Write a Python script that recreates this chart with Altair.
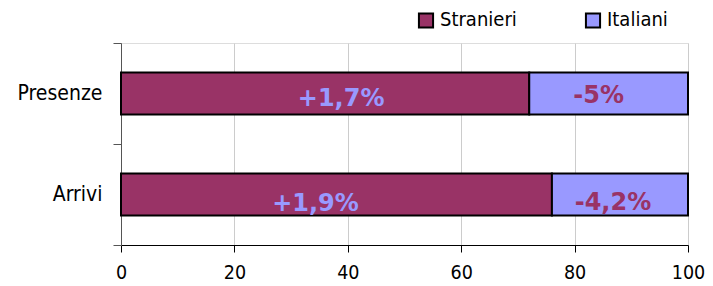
import altair as alt
import pandas as pd

categories = ["Presenze", "Arrivi"]
series = ["Stranieri", "Italiani"]
stranieri = [72, 76]
italiani = [28, 24]
lab_stranieri = ["+1,7%", "+1,9%"]
lab_italiani = ["-5%", "-4,2%"]

colors = ["#993366", "#9999FF"]
label_colors = {"Stranieri": "#9999FF", "Italiani": "#993366"}
FONT = "DejaVu Sans Condensed, Liberation Sans Narrow, DejaVu Sans"
BOLD = "DejaVu Sans"

rows = []
for i, c in enumerate(categories):
    start = 0
    for s, vals, labs in [("Stranieri", stranieri, lab_stranieri), ("Italiani", italiani, lab_italiani)]:
        v = vals[i]
        rows.append({"cat": c, "series": s, "start": start, "end": start + v,
                     "mid": start + v / 2, "label": labs[i]})
        start += v
df = pd.DataFrame(rows)

y_enc = alt.Y("cat:N", sort=categories, title=None,
              scale=alt.Scale(domain=categories, paddingInner=0, paddingOuter=0),
              axis=alt.Axis(tickBand="extent", tickSize=8, labelPadding=11, labelFontSize=21,
                            labelFont=FONT, labelColor="black", domainColor="#555555",
                            tickColor="#555555", grid=False))

bars = alt.Chart(df).mark_bar(size=42, stroke="black", strokeWidth=2).encode(
    x=alt.X("start:Q", title=None, scale=alt.Scale(domain=[0, 100], nice=False),
            axis=alt.Axis(values=[0, 20, 40, 60, 80, 100], tickSize=7, labelPadding=11,
                          labelFontSize=19.5, labelFont=FONT, labelColor="black",
                          domainColor="black", tickColor="black", gridColor="#cccccc",
                          labelFlush=False)),
    x2="end:Q",
    y=y_enc,
    color=alt.Color("series:N", sort=series,
                    scale=alt.Scale(domain=series, range=colors),
                    legend=alt.Legend(title=None, orient="none", legendX=295, legendY=-33,
                                      direction="horizontal", symbolType="square",
                                      symbolSize=200, symbolStrokeColor="black",
                                      symbolStrokeWidth=2, labelFontSize=20, labelFont=FONT,
                                      labelColor="black", labelOffset=4, columnPadding=64,
                                      padding=0)),
)

nudges = {
    ("Presenze", "Stranieri"): (16, 12),
    ("Presenze", "Italiani"): (-10, 9),
    ("Arrivi", "Stranieri"): (-21, 16),
    ("Arrivi", "Italiani"): (-7, 15),
}

texts = []
for (c, s), (dx, dy) in nudges.items():
    t = alt.Chart(df).transform_filter(
        (alt.datum.cat == c) & (alt.datum.series == s)
    ).mark_text(font=BOLD, fontWeight="bold", fontSize=24, align="center",
                baseline="alphabetic", dx=dx, dy=dy, color=label_colors[s]).encode(
        x=alt.X("mid:Q"),
        y=alt.Y("cat:N", sort=categories),
        text="label:N",
    )
    texts.append(t)

chart = alt.layer(bars, *texts).properties(
    width=567, height=202,
    autosize=alt.AutoSizeParams(type="none"),
    padding={"left": 113, "top": 35, "right": 17, "bottom": 40},
).configure_view(stroke=None).configure(background="white")

chart.save("out.html", embed_options={"renderer": "svg", "actions": False})
